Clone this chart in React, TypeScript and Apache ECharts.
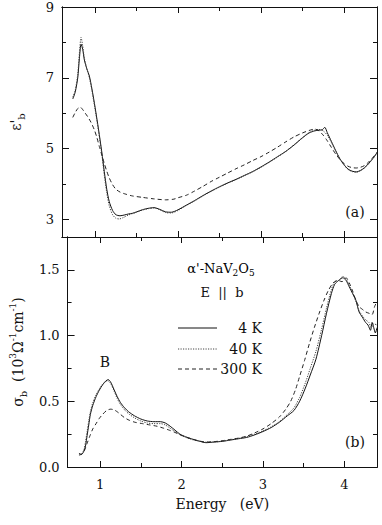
import React, { useEffect, useRef } from "react";
import * as echarts from "echarts";

// ---------- data ----------
const xRange = [0.6, 4.4];
const xMajorTicks = [1, 2, 3, 4];
const xMinorTicks = [1.5, 2.5, 3.5];
const epsRange = [2.5, 9];
const epsMajorTicks = [3, 5, 7, 9];
const epsMinorTicks = [4, 6, 8];
const sigRange = [0, 1.75];
const sigMajorTicks = [0, 0.5, 1.0, 1.5];
const sigMinorTicks = [0.25, 0.75, 1.25];
const seriesNames = ["4 K", "40 K", "300 K"];

// ε'_b (upper panel)
const eps4K: number[][] = [
  [0.73, 6.4], [0.76, 6.6], [0.79, 7.0], [0.81, 7.55], [0.83, 7.95], [0.85, 7.8], [0.87, 7.5],
  [0.9, 7.25], [0.93, 7.05], [0.96, 6.7], [1.0, 6.15], [1.04, 5.55], [1.08, 4.9], [1.11, 4.35],
  [1.14, 3.85], [1.17, 3.5], [1.21, 3.25], [1.25, 3.13], [1.3, 3.1], [1.35, 3.12], [1.4, 3.15],
  [1.45, 3.17], [1.5, 3.21], [1.57, 3.27], [1.64, 3.31], [1.71, 3.33], [1.78, 3.28], [1.85, 3.21],
  [1.92, 3.2], [2.0, 3.27], [2.1, 3.4], [2.2, 3.53], [2.3, 3.67], [2.4, 3.8], [2.5, 3.92],
  [2.6, 4.03], [2.7, 4.13], [2.8, 4.24], [2.9, 4.35], [3.0, 4.48], [3.1, 4.62], [3.2, 4.77],
  [3.3, 4.92], [3.4, 5.1], [3.5, 5.3], [3.58, 5.44], [3.65, 5.5], [3.7, 5.52], [3.74, 5.53],
  [3.77, 5.6], [3.8, 5.45], [3.85, 5.2], [3.9, 4.95], [3.95, 4.72], [4.0, 4.55], [4.05, 4.42],
  [4.1, 4.36], [4.15, 4.34], [4.2, 4.38], [4.25, 4.46], [4.3, 4.58], [4.35, 4.72], [4.4, 4.88],
];
const eps40K: number[][] = [
  [0.73, 6.45], [0.76, 6.65], [0.79, 7.1], [0.81, 7.7], [0.83, 8.14], [0.85, 7.9], [0.87, 7.55],
  [0.9, 7.25], [0.93, 7.0], [0.96, 6.65], [1.0, 6.1], [1.04, 5.5], [1.08, 4.85], [1.11, 4.25],
  [1.14, 3.75], [1.17, 3.38], [1.21, 3.13], [1.25, 3.03], [1.29, 3.01], [1.34, 3.05], [1.4, 3.12],
  [1.45, 3.16], [1.5, 3.2], [1.57, 3.26], [1.64, 3.3], [1.71, 3.32], [1.78, 3.27], [1.85, 3.19],
  [1.92, 3.18], [2.0, 3.25], [2.1, 3.39], [2.2, 3.52], [2.3, 3.66], [2.4, 3.79], [2.5, 3.91],
  [2.6, 4.02], [2.7, 4.12], [2.8, 4.23], [2.9, 4.34], [3.0, 4.47], [3.1, 4.61], [3.2, 4.76],
  [3.3, 4.92], [3.4, 5.11], [3.5, 5.31], [3.58, 5.45], [3.65, 5.52], [3.7, 5.54], [3.75, 5.5],
  [3.8, 5.38], [3.85, 5.17], [3.9, 4.93], [3.95, 4.71], [4.0, 4.54], [4.05, 4.41], [4.1, 4.35],
  [4.15, 4.33], [4.2, 4.37], [4.25, 4.45], [4.3, 4.57], [4.35, 4.71], [4.4, 4.87],
];
const eps300K: number[][] = [
  [0.73, 5.88], [0.76, 6.02], [0.79, 6.13], [0.82, 6.17], [0.85, 6.1], [0.88, 6.0], [0.91, 5.9],
  [0.95, 5.74], [0.99, 5.53], [1.02, 5.32], [1.05, 5.06], [1.08, 4.82], [1.11, 4.58], [1.14, 4.36],
  [1.17, 4.17], [1.21, 3.98], [1.25, 3.85], [1.3, 3.77], [1.37, 3.71], [1.45, 3.66], [1.57, 3.62],
  [1.7, 3.58], [1.85, 3.55], [1.95, 3.57], [2.0, 3.61], [2.1, 3.68], [2.2, 3.8], [2.3, 3.93],
  [2.4, 4.07], [2.5, 4.19], [2.6, 4.31], [2.7, 4.43], [2.8, 4.54], [2.9, 4.66], [3.0, 4.77],
  [3.1, 4.9], [3.2, 5.04], [3.3, 5.19], [3.4, 5.33], [3.5, 5.44], [3.58, 5.51], [3.65, 5.55],
  [3.7, 5.5], [3.75, 5.38], [3.8, 5.22], [3.85, 5.03], [3.9, 4.85], [3.95, 4.7], [4.0, 4.58],
  [4.05, 4.5], [4.1, 4.46], [4.15, 4.45], [4.2, 4.47], [4.25, 4.52], [4.3, 4.62], [4.35, 4.75],
  [4.4, 4.9],
];

// σ_b (lower panel), 10^3 Ω^-1 cm^-1
const sig4K: number[][] = [
  [0.74, 0.105], [0.77, 0.095], [0.8, 0.12], [0.82, 0.16], [0.84, 0.24], [0.86, 0.32], [0.88, 0.4],
  [0.91, 0.47], [0.95, 0.535], [0.99, 0.585], [1.03, 0.625], [1.07, 0.655], [1.1, 0.665],
  [1.13, 0.645], [1.17, 0.59], [1.21, 0.535], [1.25, 0.49], [1.3, 0.45], [1.35, 0.42], [1.42, 0.39],
  [1.5, 0.365], [1.58, 0.35], [1.66, 0.345], [1.74, 0.345], [1.8, 0.335], [1.86, 0.31], [1.92, 0.28],
  [1.98, 0.25], [2.05, 0.23], [2.12, 0.215], [2.2, 0.2], [2.3, 0.185], [2.4, 0.19], [2.5, 0.195],
  [2.6, 0.205], [2.7, 0.215], [2.8, 0.225], [2.9, 0.245], [3.0, 0.27], [3.1, 0.3], [3.2, 0.34],
  [3.3, 0.39], [3.38, 0.43], [3.45, 0.5], [3.52, 0.6], [3.58, 0.7], [3.65, 0.82], [3.72, 1.0],
  [3.78, 1.17], [3.84, 1.32], [3.88, 1.39], [3.93, 1.42], [3.98, 1.44], [4.02, 1.42], [4.06, 1.37],
  [4.1, 1.32], [4.14, 1.27], [4.18, 1.18], [4.22, 1.14], [4.26, 1.1], [4.29, 1.08], [4.32, 1.04],
  [4.34, 1.1], [4.36, 1.06], [4.38, 1.02], [4.4, 1.06],
];
const sig40K: number[][] = [
  [0.74, 0.1], [0.77, 0.1], [0.8, 0.13], [0.82, 0.19], [0.84, 0.27], [0.86, 0.35], [0.88, 0.42],
  [0.91, 0.49], [0.95, 0.55], [0.99, 0.595], [1.03, 0.63], [1.07, 0.65], [1.1, 0.655],
  [1.13, 0.635], [1.17, 0.58], [1.21, 0.52], [1.25, 0.475], [1.3, 0.435], [1.35, 0.405],
  [1.42, 0.375], [1.5, 0.35], [1.58, 0.335], [1.66, 0.33], [1.74, 0.33], [1.8, 0.32], [1.86, 0.295],
  [1.92, 0.27], [1.98, 0.245], [2.05, 0.225], [2.12, 0.21], [2.2, 0.198], [2.3, 0.188], [2.4, 0.19],
  [2.5, 0.197], [2.6, 0.207], [2.7, 0.218], [2.8, 0.23], [2.9, 0.25], [3.0, 0.275], [3.1, 0.305],
  [3.2, 0.345], [3.3, 0.4], [3.38, 0.45], [3.45, 0.53], [3.52, 0.64], [3.58, 0.75], [3.65, 0.88],
  [3.72, 1.05], [3.78, 1.21], [3.84, 1.35], [3.88, 1.41], [3.93, 1.42], [3.98, 1.45], [4.02, 1.43],
  [4.06, 1.38], [4.1, 1.33], [4.14, 1.26], [4.18, 1.19], [4.22, 1.15], [4.26, 1.12], [4.3, 1.1],
  [4.33, 1.06], [4.36, 1.09], [4.4, 1.08],
];
const sig300K: number[][] = [
  [0.74, 0.09], [0.78, 0.1], [0.81, 0.13], [0.84, 0.18], [0.87, 0.23], [0.91, 0.29], [0.95, 0.33],
  [0.99, 0.37], [1.03, 0.4], [1.08, 0.43], [1.13, 0.44], [1.17, 0.435], [1.21, 0.42], [1.25, 0.4],
  [1.3, 0.375], [1.36, 0.355], [1.43, 0.34], [1.52, 0.33], [1.61, 0.32], [1.7, 0.31], [1.78, 0.295],
  [1.85, 0.28], [1.93, 0.26], [2.0, 0.24], [2.09, 0.22], [2.2, 0.2], [2.3, 0.19], [2.4, 0.193],
  [2.5, 0.2], [2.6, 0.21], [2.7, 0.22], [2.8, 0.235], [2.9, 0.26], [3.0, 0.29], [3.1, 0.33],
  [3.2, 0.38], [3.28, 0.44], [3.34, 0.5], [3.4, 0.59], [3.45, 0.69], [3.51, 0.81], [3.57, 0.94],
  [3.63, 1.06], [3.69, 1.17], [3.75, 1.27], [3.8, 1.34], [3.86, 1.4], [3.92, 1.42], [3.97, 1.41],
  [4.02, 1.44], [4.06, 1.4], [4.1, 1.34], [4.14, 1.27], [4.18, 1.22], [4.22, 1.2], [4.26, 1.18],
  [4.3, 1.17], [4.34, 1.16], [4.37, 1.22], [4.4, 1.26],
];

// ---------- styling ----------
const FONT = "DejaVu Serif";
const INK = "#111";
const LINE_TYPES: any[] = ["solid", [1.2, 1.3], [4, 3]];
const LINE_COLORS = ["#111", "#444", "#222"];

function xAxes(gridIndex: number, withLabels: boolean) {
  const base = {
    type: "value",
    gridIndex,
    min: xRange[0],
    max: xRange[1],
    splitLine: { show: false },
    axisLine: { show: true, onZero: false, lineStyle: { color: INK, width: 1 } },
  };
  const mk = (position: string, ticks: number[], len: number, labels: boolean, extra: any = {}) => ({
    ...base,
    position,
    axisTick: { show: true, inside: true, length: len, customValues: ticks, lineStyle: { color: INK, width: 1 } },
    axisLabel: labels
      ? { show: true, customValues: ticks, margin: 11, fontFamily: FONT, fontSize: 13, color: INK }
      : { show: false },
    ...extra,
  });
  return [
    mk("bottom", xMajorTicks, 6, withLabels,
      withLabels
        ? {
            name: "Energy   (eV)",
            nameLocation: "middle",
            nameGap: 30,
            nameTextStyle: { fontFamily: FONT, fontSize: 14, color: INK },
          }
        : {}),
    mk("bottom", xMinorTicks, 4, false),
    mk("top", xMajorTicks, 6, false),
    mk("top", xMinorTicks, 4, false),
  ];
}

function yAxes(gridIndex: number, range: number[], major: number[], minor: number[], fmt: (v: number) => string, nameCfg: any) {
  const base = {
    type: "value",
    gridIndex,
    min: range[0],
    max: range[1],
    splitLine: { show: false },
    axisLine: { show: true, onZero: false, lineStyle: { color: INK, width: 1 } },
  };
  const mk = (position: string, ticks: number[], len: number, labels: boolean, extra: any = {}) => ({
    ...base,
    position,
    axisTick: { show: true, inside: true, length: len, customValues: ticks, lineStyle: { color: INK, width: 1 } },
    axisLabel: labels
      ? { show: true, customValues: ticks, margin: 8, fontFamily: FONT, fontSize: 13, color: INK, formatter: fmt }
      : { show: false },
    ...extra,
  });
  return [
    mk("left", major, 7, true, nameCfg),
    mk("left", minor, 4, false),
    mk("right", major, 7, false),
    mk("right", minor, 4, false),
  ];
}

const richBase = {
  m: { fontFamily: FONT, fontSize: 14, color: INK, lineHeight: 20 },
  s: { fontFamily: FONT, fontSize: 10, color: INK, lineHeight: 10, verticalAlign: "bottom" },
  p: { fontFamily: FONT, fontSize: 9, color: INK, lineHeight: 9, verticalAlign: "top" },
};
const richAnno = {
  m: { fontFamily: FONT, fontSize: 13, color: INK, lineHeight: 18 },
  s: { fontFamily: FONT, fontSize: 9, color: INK, lineHeight: 9, verticalAlign: "bottom" },
};

export default function App() {
  const ref = useRef<HTMLDivElement>(null);
  useEffect(() => {
    document.body.style.margin = "0";
    if (!ref.current) return;
    const chart = echarts.init(ref.current, null, { renderer: "svg" });

    const epsSeries = [eps4K, eps40K, eps300K];
    const sigSeries = [sig4K, sig40K, sig300K];
    const series: any[] = [];
    epsSeries.forEach((d, i) =>
      series.push({
        name: seriesNames[i], type: "line", xAxisIndex: 0, yAxisIndex: 0, data: d,
        symbol: "none", smooth: 0.25,
        lineStyle: { color: LINE_COLORS[i], width: 1, type: LINE_TYPES[i] },
      })
    );
    sigSeries.forEach((d, i) =>
      series.push({
        name: seriesNames[i], type: "line", xAxisIndex: 4, yAxisIndex: 4, data: d,
        symbol: "none", smooth: 0.25,
        lineStyle: { color: LINE_COLORS[i], width: 1, type: LINE_TYPES[i] },
      })
    );

    const legendY = [328, 349, 369];
    const graphic: any[] = [];
    seriesNames.forEach((n, i) => {
      const t = LINE_TYPES[i];
      graphic.push({
        type: "line",
        shape: { x1: 178, y1: legendY[i], x2: 217, y2: legendY[i] },
        style: { stroke: LINE_COLORS[i], lineWidth: 1, lineDash: Array.isArray(t) ? t : null },
      });
      graphic.push({
        type: "text", x: 262, y: legendY[i],
        style: { text: n, fontFamily: FONT, fontSize: 14, fill: INK, align: "right", verticalAlign: "middle" },
      });
    });
    const plainText = (text: string, x: number, y: number, size = 14) => ({
      type: "text", x, y,
      style: { text, fontFamily: FONT, fontSize: size, fill: INK, align: "center", verticalAlign: "middle" },
    });
    graphic.push(
      {
        type: "text", x: 221, y: 268,
        style: { text: "{m|α'-NaV}{s|2}{m|O}{s|5}", rich: richAnno, align: "center", verticalAlign: "middle" },
      },
      plainText("E  ||  b", 222, 292, 13),
      plainText("B", 105, 362, 14),
      plainText("(a)", 355, 212, 14),
      plainText("(b)", 355, 442, 14)
    );

    const option: any = {
      animation: false,
      backgroundColor: "#fff",
      textStyle: { fontFamily: FONT },
      grid: [
        { left: 62, top: 7, width: 315, height: 230 },
        { left: 62, top: 237, width: 315, height: 230 },
      ],
      xAxis: [...xAxes(0, false), ...xAxes(1, true)],
      yAxis: [
        ...yAxes(0, epsRange, epsMajorTicks, epsMinorTicks, (v) => String(Math.round(v)), {
          name: "{m|ε'}{s|b}", nameLocation: "middle", nameRotate: 90, nameGap: 36,
          nameTextStyle: { rich: richBase },
        }),
        ...yAxes(1, sigRange, sigMajorTicks, sigMinorTicks, (v) => v.toFixed(1), {
          name: "{m|σ}{s|b}{m|  (10}{p|3}{m|Ω}{p|-1}{m|cm}{p|-1}{m|)}",
          nameLocation: "middle", nameRotate: 90, nameGap: 38,
          nameTextStyle: { rich: richBase },
        }),
      ],
      series,
      graphic,
    };
    chart.setOption(option);
    return () => chart.dispose();
  }, []);
  return <div ref={ref} style={{ width: 382, height: 525 }} />;
}
